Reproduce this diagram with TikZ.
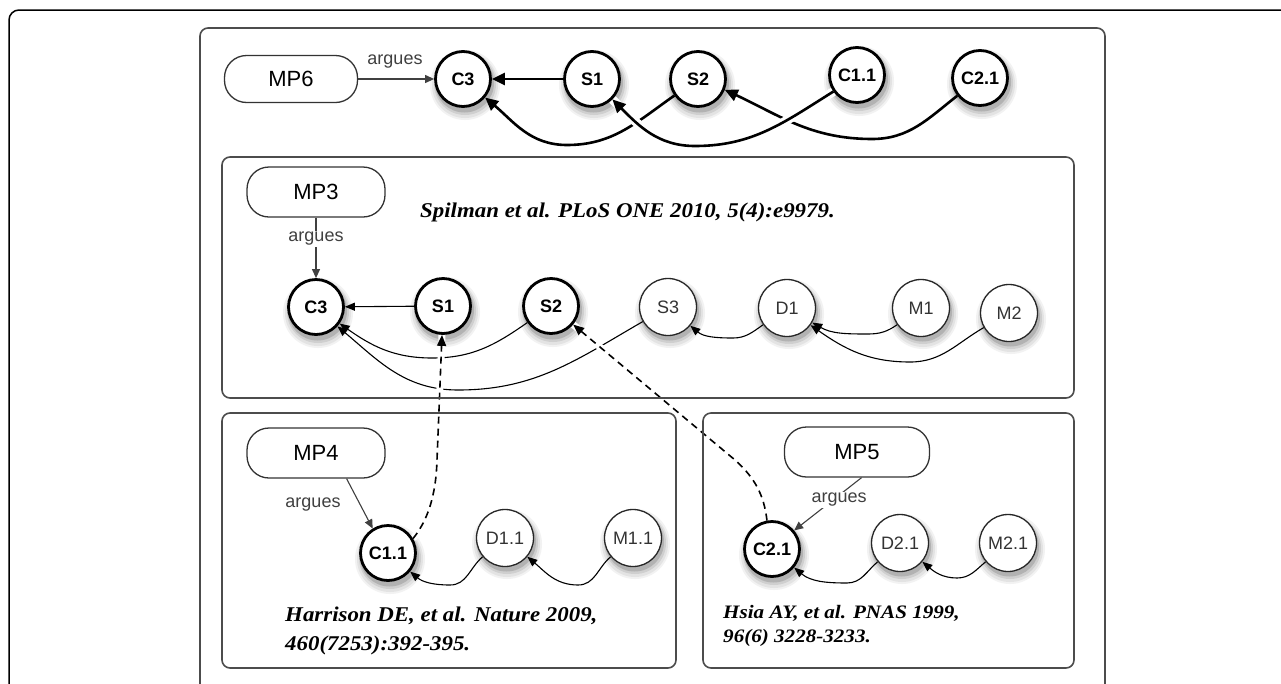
\documentclass[tikz,border=0pt]{standalone}
\usepackage{fontspec}
\usepackage{graphicx}
\setmainfont{Liberation Sans}
\newfontfamily\citefont{Liberation Serif}
\usetikzlibrary{arrows.meta,calc}
\pgfdeclarelayer{paper}
\pgfdeclarelayer{bg}
\pgfsetlayers{paper,bg,main}
\definecolor{framegray}{gray}{0.3}
\definecolor{labelgray}{gray}{0.25}
\tikzset{
  claimnode/.style={circle, draw=black, line width=2.8pt, fill=white, minimum size=55pt, inner sep=0pt,
     font=\fontsize{18}{18}\selectfont\bfseries},
  datanode/.style={circle, draw=black!85, line width=1.3pt, fill=white, minimum size=57pt, inner sep=0pt,
     font=\fontsize{18}{18}\selectfont, text=black!80},
  mpbox/.style={rectangle, rounded corners=22pt, draw=black!80, line width=1.3pt, fill=white,
     minimum width=138pt, minimum height=50pt, inner sep=0pt, font=\fontsize{22}{22}\selectfont},
  panel/.style={draw=framegray, line width=1.6pt, rounded corners=8pt},
  bigarrow/.style={line width=2.6pt, -{Triangle[length=13pt,width=12pt]}},
  thinarrow/.style={line width=1.1pt, -{Triangle[length=10pt,width=8pt]}},
  arguesarrow/.style={line width=1.1pt, draw=labelgray, -{Triangle[length=9pt,width=8pt]}},
  arguestext/.style={font=\fontsize{18}{18}\selectfont, text=labelgray, inner sep=1pt},
  dashedarrow/.style={line width=1.6pt, dash pattern=on 7pt off 5pt, -{Triangle[length=11pt,width=9pt]},
     preaction={draw=white, solid, line width=7pt, -}},
  haloarrow/.style={bigarrow, preaction={draw=white, line width=9pt, -}},
  citetext/.style={font=\citefont\bfseries\itshape\fontsize{21}{21}\selectfont, inner sep=0pt, anchor=base west},
}
\begin{document}
\begin{tikzpicture}[x=1pt,y=1pt]
\useasboundingbox (0,0) rectangle (1281,-683);
\clip (0,0) rectangle (1281,-683);

% frames
\draw[black, line width=1.5pt, rounded corners=10pt] (9,-720) rectangle (1330,-10);
\draw[panel] (200,-720) rectangle (1105,-28);
\draw[panel] (222,-398) rectangle (1074,-157);
\draw[panel] (222,-668) rectangle (676,-413);
\draw[panel] (703,-668) rectangle (1074,-413);

% top row
\node[mpbox, minimum width=133pt, minimum height=47pt] (mp6) at (291,-79) {MP6};
\node[claimnode] (C3t) at (463,-79) {C3};
\node[claimnode] (S1t) at (592,-79) {S1};
\node[claimnode] (S2t) at (698,-79) {S2};
\node[claimnode] (C11t) at (857,-75) {C1.1};
\node[claimnode] (C21t) at (980,-78) {C2.1};
\node[arguestext] (argtop) at (395,-62) {argues};

% MP3 panel
\node[mpbox] (mp3) at (316,-192) {MP3};
\node[claimnode] (C3m) at (316,-307) {C3};
\node[claimnode] (S1m) at (443,-306) {S1};
\node[claimnode] (S2m) at (551,-306) {S2};
\node[datanode] (S3m) at (668,-307) {S3};
\node[datanode] (D1m) at (787,-308) {D1};
\node[datanode] (M1m) at (921,-308) {M1};
\node[datanode] (M2m) at (1009,-313) {M2};
\node[citetext] (cite3) at (420,-217) {\scalebox{1.09}[1]{Spilman et al. PLoS ONE 2010, 5(4):e9979.}};

% MP4 panel
\node[mpbox] (mp4) at (316,-453) {MP4};
\node[claimnode] (C11b) at (388,-553) {C1.1};
\node[datanode] (D11b) at (505,-538) {D1.1};
\node[datanode] (M11b) at (633,-538) {M1.1};
\node[arguestext] (arg4) at (313,-505) {argues};
\node[citetext] (cite4a) at (285,-621) {\scalebox{1.09}[1]{Harrison DE, et al. Nature 2009,}};
\node[citetext] (cite4b) at (285,-650) {\scalebox{1.09}[1]{460(7253):392-395.}};

% MP5 panel
\node[mpbox, minimum width=145pt] (mp5) at (857,-452) {MP5};
\node[claimnode] (C21b) at (772,-549) {C2.1};
\node[datanode] (D21b) at (900,-543) {D2.1};
\node[datanode] (M21b) at (1008,-543) {M2.1};
\node[citetext, font=\citefont\bfseries\itshape\fontsize{19}{19}\selectfont] (cite5a) at (723,-618) {\scalebox{1.11}[1]{Hsia AY, et al. PNAS 1999,}};
\node[citetext, font=\citefont\bfseries\itshape\fontsize{19}{19}\selectfont] (cite5b) at (723,-642) {\scalebox{1.11}[1]{96(6) 3228-3233.}};

% soft shadows under the circles
\begin{pgfonlayer}{paper}
\fill[white] (0,0) rectangle (1281,-683);
\foreach \n in {C3t,S1t,S2t,C11t,C21t,C3m,S1m,S2m,S3m,D1m,M1m,M2m,C11b,D11b,M11b,C21b,D21b,M21b}{
  \fill[black!5]  ($(\n)+(2,-6)$) circle (35pt);
  \fill[black!11] ($(\n)+(2,-6)$) circle (33pt);
  \fill[black!19] ($(\n)+(2,-5)$) circle (31pt);
  \fill[black!30] ($(\n)+(1.5,-4)$) circle (29.5pt);
}
\end{pgfonlayer}

\begin{pgfonlayer}{bg}
% top row
\draw[arguesarrow] (mp6) -- (C3t);
\draw[bigarrow] (S1t) -- (C3t);
\draw[bigarrow] (S2t.215) to[out=215,in=0] (567,-145) to[out=180,in=-40] (C3t.-40);
\draw[bigarrow] (C21t.218) to[out=218,in=0] (872,-139) to[out=180,in=-25] (S2t.-22);
\draw[haloarrow] (C11t.215) to[out=212,in=0] (695,-146) to[out=180,in=-45] (S1t.-45);

% MP3 panel
\draw[arguesarrow] (mp3) -- node[arguestext, fill=white, pos=0.35] (arg3) {argues} (C3m);
\draw[thinarrow] (S1m) -- (C3m);
\draw[thinarrow] (S2m.215) to[out=215,in=0] (432,-358) to[out=180,in=-35] (C3m.-35);
\draw[thinarrow] (S3m.210) to[out=210,in=0] (458,-390) to[out=180,in=-40] (C3m.-42);
\draw[thinarrow] (D1m.215) to[out=215,in=0] (733,-338) to[out=180,in=-40] (S3m.-40);
\draw[thinarrow] (M1m.215) to[out=215,in=0] (868,-334) to[out=180,in=-30] (D1m.-30);
\draw[thinarrow] (M2m.210) to[out=210,in=0] (910,-362) to[out=180,in=-35] (D1m.-36);

% MP4 panel
\draw[arguesarrow] (mp4.-40) -- (C11b.122);
\draw[thinarrow] (D11b.220) to[out=220,in=0] (450,-585) to[out=180,in=-40] (C11b.-40);
\draw[thinarrow] (M11b.220) to[out=220,in=0] (578,-585) to[out=180,in=-40] (D11b.-40);

% MP5 panel
\draw[arguesarrow] (mp5.-80) -- node[arguestext, fill=white, pos=0.42, xshift=6pt] (arg5) {argues} (C21b.40);
\draw[thinarrow] (D21b.220) to[out=220,in=0] (847,-583) to[out=180,in=-40] (C21b.-40);
\draw[thinarrow] (M21b.220) to[out=220,in=0] (957,-578) to[out=180,in=-40] (D21b.-40);

% cross-panel dashed
\draw[dashedarrow] (C11b.30) .. controls (428,-520) and (436,-495) .. (437,-460) -- (S1m.-92);
\draw[dashedarrow] (C21b.100) .. controls (764,-495) and (755,-478) .. (735,-460) -- (S2m.-40);
\end{pgfonlayer}
\end{tikzpicture}
\end{document}
